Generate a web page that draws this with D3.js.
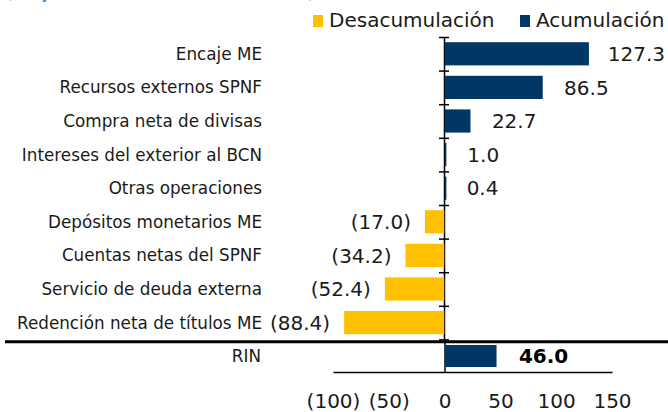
<!DOCTYPE html>
<html>
<head>
<meta charset="utf-8">
<script src="https://cdn.jsdelivr.net/npm/d3@7"></script>
<style>
  body { margin: 0; background: #fff; }
  svg { display: block; font-family: "DejaVu Sans", Verdana, sans-serif; }
</style>
</head>
<body>
<div id="chart"></div>
<script>
const categories = [
  "Encaje ME",
  "Recursos externos SPNF",
  "Compra neta de divisas",
  "Intereses del exterior al BCN",
  "Otras operaciones",
  "Depósitos monetarios ME",
  "Cuentas netas del SPNF",
  "Servicio de deuda externa",
  "Redención neta de títulos ME"
];
const values = [127.3, 86.5, 22.7, 1.0, 0.4, -17.0, -34.2, -52.4, -88.4];
const totalLabel = "RIN";
const totalValue = 46.0;
const tickValues = [-100, -50, 0, 50, 100, 150];
const legendLabels = ["Desacumulación", "Acumulación"];
const subtitle = "(Flujos en millones de dólares)";

const width = 668, height = 412;
const navy = "#003764", gold = "#ffc000";

const fmt = v => v < 0 ? "(" + d3.format(".1f")(-v) + ")" : d3.format(".1f")(v);
const fmtTick = v => v < 0 ? "(" + (-v) + ")" : String(v);

const svg = d3.select("#chart").append("svg")
  .attr("width", width)
  .attr("height", height);

// subtitle, cut off by the top edge (only descenders show)
svg.append("text")
  .attr("x", 5)
  .attr("y", -2)
  .attr("textLength", 310)
  .style("font-size", "20px")
  .attr("fill", "#3f7fbf")
  .text(subtitle);

// scales
const xTop = d3.scaleLinear().domain([-100, 150]).range([331, 614]);
const xBot = d3.scaleLinear().domain([-100, 150]).range([333, 612]);
const y = d3.scaleBand().domain(categories).range([37, 339.4])
  .paddingInner(0.31).paddingOuter(0.155);
const yIdx = d3.scaleLinear().domain([0, categories.length]).range([37, 339.4]);

// vertical axis with crossing ticks at band boundaries
const yAxis = svg.append("g")
  .attr("transform", `translate(${Math.round(xTop(0))},0)`)
  .call(d3.axisLeft(yIdx).tickValues(d3.range(categories.length + 1)).tickFormat("").tickSizeOuter(0));
yAxis.select(".domain").attr("stroke", "#000").attr("stroke-width", 1.5);
yAxis.selectAll(".tick line").attr("x1", -5).attr("x2", 5).attr("stroke", "#000").attr("stroke-width", 1.5);

// bars
svg.selectAll(".bar")
  .data(values)
  .join("rect")
  .attr("class", "bar")
  .attr("x", d => d < 0 ? xTop(d) : xTop(0) + 0.6)
  .attr("y", (d, i) => y(categories[i]))
  .attr("width", d => Math.max(1.6, Math.abs(xTop(d) - xTop(0))))
  .attr("height", y.bandwidth())
  .attr("fill", d => d < 0 ? gold : navy);

// category labels
svg.selectAll(".cat")
  .data(categories)
  .join("text")
  .attr("class", "cat")
  .attr("x", 262)
  .attr("y", d => y(d) + y.bandwidth() / 2)
  .attr("dy", "0.36em")
  .attr("text-anchor", "end")
  .style("font-size", "16.8px")
  .attr("fill", "#1a1a1a")
  .text(d => d);

// value labels
svg.selectAll(".val")
  .data(values)
  .join("text")
  .attr("class", "val")
  .attr("y", (d, i) => y(categories[i]) + y.bandwidth() / 2)
  .attr("dy", "0.36em")
  .style("font-size", "20px")
  .attr("fill", "#1a1a1a")
  .text(d => fmt(d))
  .each(function(d) {
    const t = d3.select(this);
    if (d < 0) {
      t.attr("x", xTop(d) - 14).attr("text-anchor", "end");
    } else {
      const w = this.getComputedTextLength();
      t.attr("x", Math.min(xTop(d) + 22, width - 3 - w)).attr("text-anchor", "start");
    }
  });

// separator
svg.append("line")
  .attr("x1", 5).attr("x2", width)
  .attr("y1", 341.7).attr("y2", 341.7)
  .attr("stroke", "#000")
  .attr("stroke-width", 3);

// RIN section
const rinTop = 345, rinH = 22;
svg.append("line")
  .attr("x1", Math.round(xBot(0))).attr("x2", Math.round(xBot(0)))
  .attr("y1", 341.7).attr("y2", 372)
  .attr("stroke", "#000").attr("stroke-width", 1.5);

svg.append("rect")
  .attr("x", xBot(0) + 0.6)
  .attr("y", rinTop)
  .attr("width", xBot(totalValue) - xBot(0))
  .attr("height", rinH)
  .attr("fill", navy);

svg.append("text")
  .attr("x", 261)
  .attr("y", rinTop + rinH / 2)
  .attr("dy", "0.36em")
  .attr("text-anchor", "end")
  .style("font-size", "16.8px")
  .attr("fill", "#1a1a1a")
  .text(totalLabel);

svg.append("text")
  .attr("x", xBot(totalValue) + 23)
  .attr("y", rinTop + rinH / 2)
  .attr("dy", "0.36em")
  .style("font-size", "20px")
  .style("font-weight", "bold")
  .attr("fill", "#000")
  .text(fmt(totalValue));

// bottom axis
const xAxis = svg.append("g")
  .attr("transform", "translate(0,372)")
  .call(d3.axisBottom(xBot).tickValues(tickValues).tickFormat(fmtTick).tickSize(0).tickSizeOuter(0).tickPadding(22));
xAxis.select(".domain").attr("stroke", "#000").attr("stroke-width", 1.5);
xAxis.selectAll("text")
  .style("font-size", "20px")
  .style("font-family", "DejaVu Sans, Verdana, sans-serif")
  .attr("fill", "#1a1a1a");

// legend
const legend = svg.append("g").attr("class", "legend");
const legendItems = [
  { label: legendLabels[0], color: gold, x: 313 },
  { label: legendLabels[1], color: navy, x: 520 }
];
legendItems.forEach(item => {
  legend.append("rect")
    .attr("x", item.x).attr("y", 15)
    .attr("width", 10).attr("height", 12)
    .attr("fill", item.color);
  legend.append("text")
    .attr("x", item.x + 16)
    .attr("y", 27.3)
    .style("font-size", "20px")
    .attr("fill", "#1a1a1a")
    .text(item.label);
});
</script>
</body>
</html>
